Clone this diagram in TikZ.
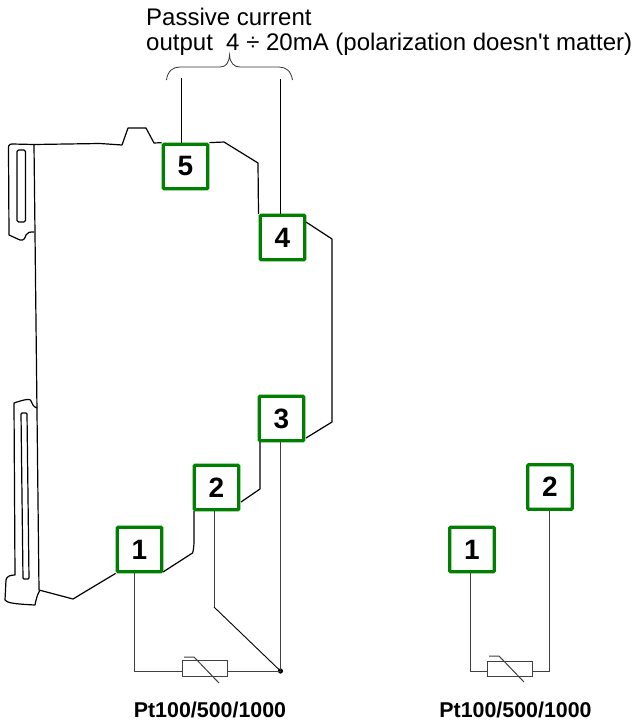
\documentclass[tikz,border=0pt]{standalone}
\usepackage{fontspec}
\newfontfamily\lsans{Liberation Sans}
\definecolor{termgreen}{RGB}{0,128,0}
\tikzset{
  termbox/.style={draw=termgreen,line width=3.2pt,fill=white,rounded corners=0.8pt,minimum size=44.5pt,inner sep=0pt,font=\lsans\fontsize{28}{28}\selectfont\bfseries,text=black},
  wire/.style={line width=1pt,draw=black!75},
  body/.style={line width=1.2pt,draw=black,line join=round},
  res/.style={line width=1pt,draw=black!75},
  plabel/.style={font=\lsans\fontsize{21.4}{21.4}\selectfont\bfseries,inner sep=0pt,anchor=base},
  tlabel/.style={font=\lsans\fontsize{24}{24}\selectfont,inner sep=0pt,anchor=base west}
}
\begin{document}
\begin{tikzpicture}[x=1pt,y=-1pt]
\useasboundingbox (0,0) rectangle (634,720);
\fill[white] (0,0) rectangle (634,720);
% terminals
\node[termbox] (n5) at (185.5,166.5) {5};
\node[termbox] (n4) at (282.5,237.5) {4};
\node[termbox] (n3) at (281.5,418.5) {3};
\node[termbox] (n2) at (216.5,487.5) {2};
\node[termbox] (n1) at (139.5,549.5) {1};
\node[termbox] (m2) at (550,487) {2};
\node[termbox] (m1) at (472,549.5) {1};
% housing
\draw[body] (n5.north west) -- (154,143) -- (146,128) -- (128,128) -- (122,145) -- (100,143.5) -- (34,144.5)
  -- (39,590) -- (73,599) -- (n1.south west);
\draw[body] (n5.north east) -- (224,142) -- (258,163) -- (258.5,214);
\draw[body] (306,222) -- (332,239) -- (332,422) -- (306,438);
\draw[body] (260,442) -- (260,489) -- (241,502);
\draw[body] (194,511) -- (194,540) .. controls (194,548) and (193,552) .. (192.5,553) -- (163,572);
% upper clip
\draw[body] (34,144.5) -- (12,144) .. controls (9,144) and (8,146) .. (8.5,150) -- (9,235) -- (20,240)
  .. controls (24,241) and (25,238) .. (26,235) .. controls (27,232) and (30,232) .. (34,232);
\draw[body,rounded corners=1.5pt] (17,150) rectangle (25.5,222);
% lower clip
\draw[body] (37,408) .. controls (33,407) and (32,403) .. (30.5,400) .. controls (29,398) and (20,401) .. (14,403)
  -- (15,575) .. controls (11,575) and (6.5,576) .. (6,580) -- (5,600)
  .. controls (7,603) and (15,604) .. (35,605) .. controls (36,600) and (37,595) .. (39.5,591);
\draw[body,rounded corners=1pt] (21,413) -- (27,413) -- (29,579) -- (23,579) -- cycle;
% current output wires and brace
\coordinate (o5) at (181,78);
\coordinate (o4) at (280,79);
\draw[wire,black] (o5) -- (o5 |- n5.north);
\draw[wire,black] (o4) -- (o4 |- n4.north);
\draw[line width=0.8pt,black!80] (166.5,80) .. controls (167.5,71) and (173,67) .. (180,67) -- (220,67)
  .. controls (226,67) and (229,63) .. (229.5,55) .. controls (230,63) and (234,67) .. (240,67) -- (279,67)
  .. controls (286,67) and (291,71) .. (292.5,80);
% left sensor
\node[draw=black!75,line width=1pt,minimum width=45pt,minimum height=16pt,inner sep=0pt] (r1) at (204.5,668) {};
\fill[black] (280.5,671) circle (2.6pt) coordinate (dot);
\coordinate (d1) at (134,671);
\coordinate (d2) at (214,607);
\draw[wire] (d1 |- n1.south) -- (d1) -- (d1 -| r1.west);
\draw[wire] (d1 -| r1.east) -- (dot);
\draw[wire] (dot |- n3.south) -- (dot);
\draw[wire] (d2 |- n2.south) -- (d2);
\draw[line width=0.9pt,black] (d2) -- (dot);
\draw[res] (184,657) -- (194,657) -- (219,683);
% right sensor
\node[draw=black!75,line width=1pt,minimum width=45pt,minimum height=15pt,inner sep=0pt] (r2) at (509.5,668.5) {};
\coordinate (e1) at (470,671);
\coordinate (e2) at (549,671);
\draw[wire] (e1 |- m1.south) -- (e1) -- (e1 -| r2.west);
\draw[wire] (e2 |- m2.south) -- (e2) -- (e2 -| r2.east);
\draw[res] (489,656) -- (499,656) -- (524,682);
% text
\node[tlabel] (t1) at (146,25.5) {Passive current};
\node[tlabel] (t2) at (146,50.5) {output\ \ 4 ÷ 20mA (polarization doesn't matter)};
\node[plabel] (p1) at (210,717) {Pt100/500/1000};
\node[plabel] (p2) at (515.5,717) {Pt100/500/1000};
\end{tikzpicture}
\end{document}
